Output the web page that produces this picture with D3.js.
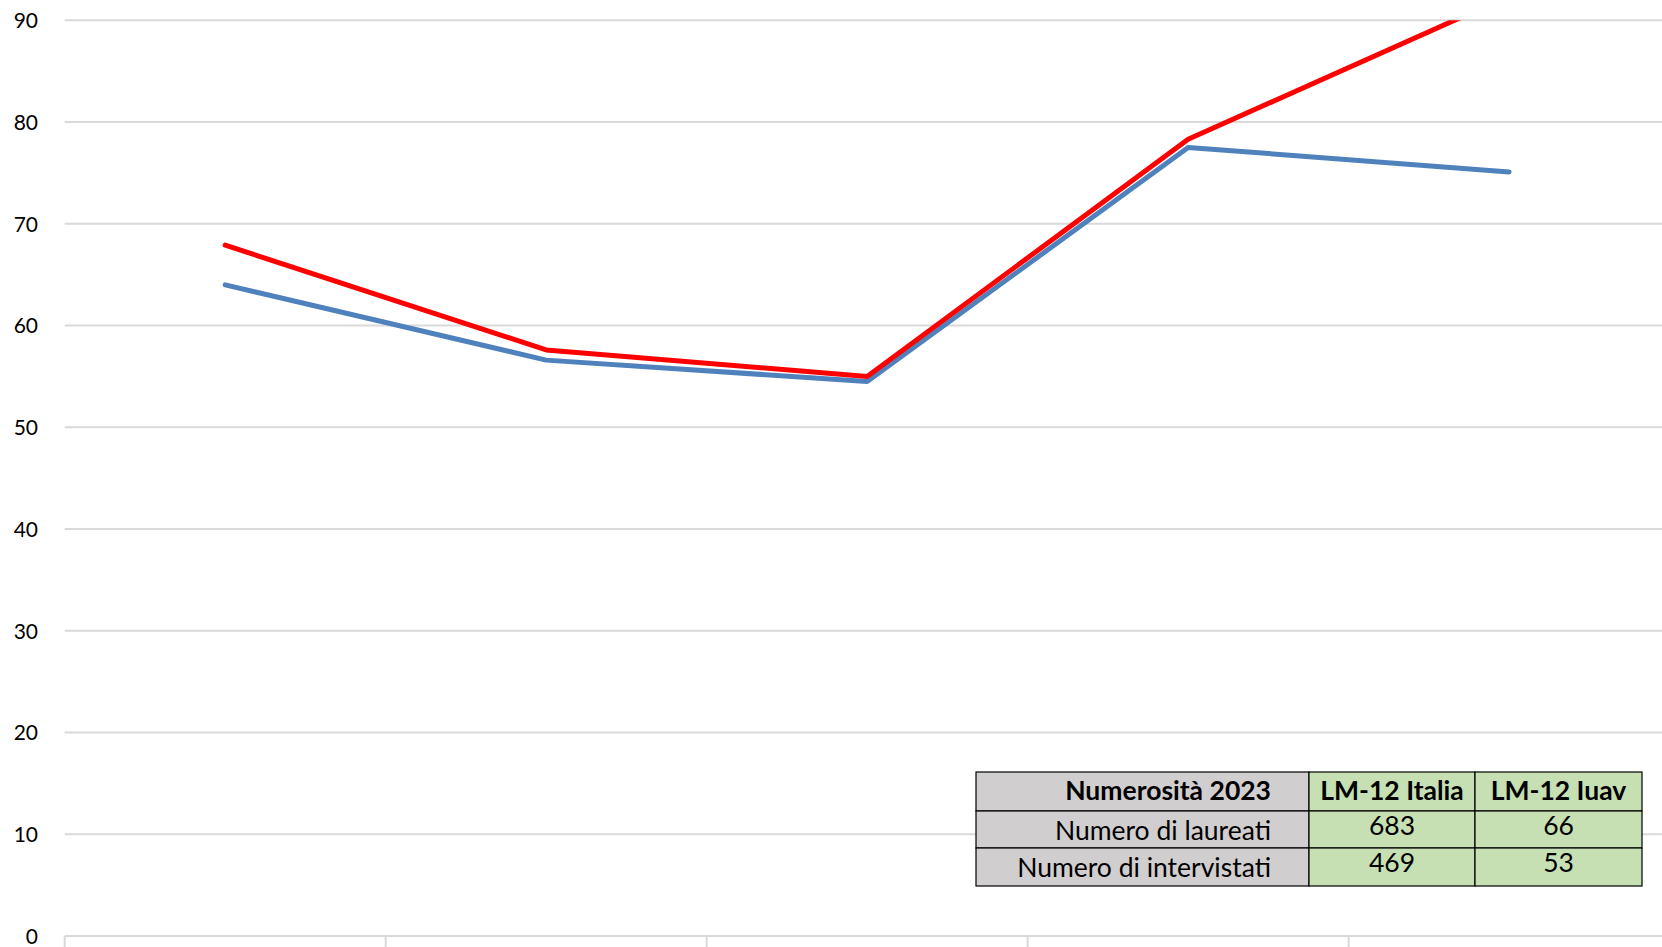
<!DOCTYPE html>
<html><head><meta charset="utf-8">
<script src="https://cdn.jsdelivr.net/npm/d3@7/dist/d3.min.js"></script>
<style>html,body{margin:0;padding:0;background:#fff;overflow:hidden}</style>
</head><body>
<script>
const categories = ["1", "2", "3", "4", "5"];
const seriesIuav = [64.0, 56.6, 54.5, 77.5, 75.1];
const seriesItalia = [67.9, 57.6, 55.0, 78.3, 92.4];
const yTicks = [0, 10, 20, 30, 40, 50, 60, 70, 80, 90];
const tableHeader = ["Numerosità 2023", "LM-12 Italia", "LM-12 Iuav"];
const tableRowLabels = ["Numero di laureati", "Numero di intervistati"];
const tableItalia = [683, 469];
const tableIuav = [66, 53];

const W = 1662, H = 947;
const svg = d3.select("body").append("svg").attr("width", W).attr("height", H);
const font = "Lato, 'Open Sans', sans-serif";

const y = d3.scaleLinear().domain([0, 90]).range([936, 20.3]);
const x = d3.scaleBand().domain(categories).range([64.7, 1669.6]);

// gridlines
svg.append("g").selectAll("line").data(yTicks).join("line")
  .attr("x1", 64.7).attr("x2", W)
  .attr("y1", d => y(d)).attr("y2", d => y(d))
  .attr("stroke", "#d9d9d9").attr("stroke-width", 2);

// y labels
const yAxis = d3.axisLeft(y).tickValues(yTicks).tickSize(0).tickPadding(0);
const ga = svg.append("g").attr("transform", "translate(38,0)").call(yAxis);
ga.select(".domain").remove();
ga.selectAll("text").attr("font-family", font).attr("font-size", 21).attr("fill", "#000").attr("dy", "0.35em");

// x ticks
svg.append("g").selectAll("line").data(categories).join("line")
  .attr("x1", d => x(d)).attr("x2", d => x(d))
  .attr("y1", y(0)).attr("y2", H)
  .attr("stroke", "#d9d9d9").attr("stroke-width", 2);

// clip
svg.append("clipPath").attr("id", "clip").append("rect")
  .attr("x", 0).attr("y", y(90)).attr("width", W).attr("height", y(0) - y(90));

const line = d3.line().x((d, i) => x(categories[i]) + x.bandwidth() / 2).y(d => y(d));
const lg = svg.append("g").attr("clip-path", "url(#clip)");
lg.append("path").datum(seriesIuav).attr("d", line).attr("fill", "none")
  .attr("stroke", "#4f81bd").attr("stroke-width", 5).attr("stroke-linecap", "round").attr("stroke-linejoin", "round");
lg.append("path").datum(seriesItalia).attr("d", line).attr("fill", "none")
  .attr("stroke", "#ff0000").attr("stroke-width", 5).attr("stroke-linecap", "round").attr("stroke-linejoin", "round");

// table
const colX = [976, 1309, 1475, 1642];
const rowY = [772, 811, 848, 886];
const tg = svg.append("g");
for (let r = 0; r < 3; r++) {
  for (let c = 0; c < 3; c++) {
    tg.append("rect").attr("x", colX[c]).attr("y", rowY[r])
      .attr("width", colX[c + 1] - colX[c]).attr("height", rowY[r + 1] - rowY[r])
      .attr("fill", c === 0 ? "#d0cece" : "#c6e0b4")
      .attr("stroke", "#000").attr("stroke-width", 1.2);
  }
}
const cells = [];
tableHeader.forEach((t, c) => cells.push({r: 0, c, t, bold: true}));
tableRowLabels.forEach((t, i) => {
  cells.push({r: i + 1, c: 0, t});
  cells.push({r: i + 1, c: 1, t: String(tableItalia[i])});
  cells.push({r: i + 1, c: 2, t: String(tableIuav[i])});
});
tg.selectAll("text").data(cells).join("text")
  .attr("x", d => d.c === 0 ? colX[1] - 38 : (colX[d.c] + colX[d.c + 1]) / 2)
  .attr("y", d => (rowY[d.r] + rowY[d.r + 1]) / 2 - (d.r > 0 && d.c > 0 ? 3 : 0) + (d.r > 0 && d.c === 0 ? 1 : -1))
  .attr("dy", "0.35em")
  .attr("text-anchor", d => d.c === 0 ? "end" : "middle")
  .attr("font-family", font).attr("font-size", 26.5)
  .attr("font-weight", d => d.bold ? "bold" : "normal")
  .attr("fill", "#000")
  .text(d => d.t);
</script>
</body></html>
